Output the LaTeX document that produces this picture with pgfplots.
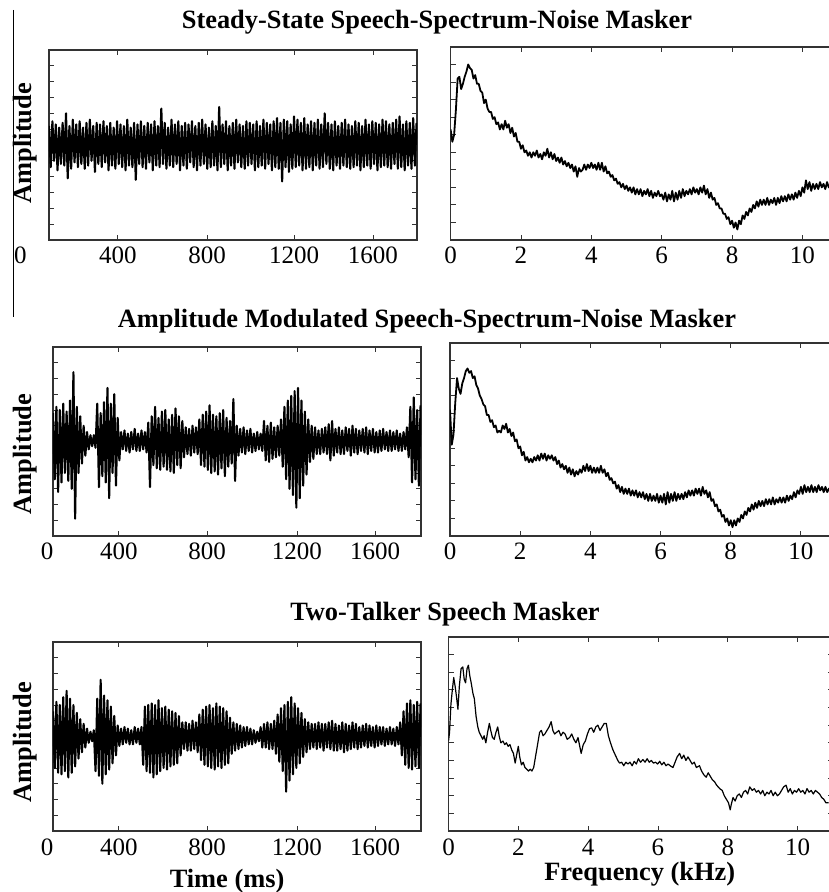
\documentclass[border=0pt]{standalone}
\usepackage{fontspec}
\setmainfont{Liberation Serif}
\usepackage{pgfplots}
\usepackage{pgfplotstable}
\pgfplotsset{compat=1.18}
\newcommand\tfont{\fontsize{26.4}{31}\selectfont\bfseries}
\newcommand\kfont{\fontsize{25}{29}\selectfont}

% steady-state noise waveform (alternating peaks), x = 80 + 8 i ms
\pgfplotstableread[row sep=\\]{y\\
1.2\\-1.4\\1.5\\-1.0\\1.3\\-1.6\\1.1\\-1.2\\1.4\\-1.3\\2.0\\-2.1\\1.2\\-1.5\\1.6\\-1.1\\1.3\\-1.4\\1.5\\-1.2\\
1.1\\-1.5\\1.4\\-1.3\\1.6\\-1.0\\1.2\\-1.7\\1.4\\-1.2\\1.3\\-1.4\\1.5\\-1.1\\1.2\\-1.6\\1.4\\-1.3\\1.1\\-1.5\\
1.5\\-1.2\\1.3\\-1.4\\1.2\\-1.6\\1.6\\-1.3\\1.1\\-1.4\\1.4\\-2.2\\1.3\\-1.2\\1.5\\-1.4\\1.2\\-1.5\\1.4\\-1.1\\
1.3\\-1.6\\1.5\\-1.3\\1.2\\-1.4\\2.3\\-1.2\\1.4\\-1.5\\1.1\\-1.3\\1.6\\-1.4\\1.3\\-1.2\\1.5\\-1.6\\1.2\\-1.3\\
1.4\\-1.5\\1.3\\-1.1\\1.5\\-1.4\\1.2\\-1.6\\1.4\\-1.3\\1.6\\-1.2\\1.3\\-1.5\\1.1\\-1.4\\1.5\\-1.3\\1.2\\-1.6\\
2.4\\-1.4\\1.3\\-1.2\\1.5\\-1.6\\1.2\\-1.3\\1.4\\-1.5\\1.6\\-1.1\\1.3\\-1.4\\1.2\\-1.5\\1.5\\-1.3\\1.4\\-1.2\\
1.3\\-1.6\\1.5\\-1.4\\1.2\\-1.3\\1.6\\-1.5\\1.4\\-1.2\\1.3\\-1.6\\1.5\\-1.4\\1.7\\-1.5\\1.4\\-2.3\\1.6\\-1.4\\
1.5\\-1.7\\1.3\\-1.5\\1.8\\-1.4\\1.6\\-1.3\\1.4\\-1.6\\1.7\\-1.5\\1.3\\-1.4\\1.5\\-1.6\\1.4\\-1.3\\1.6\\-1.5\\
1.3\\-1.4\\2.0\\-1.2\\1.4\\-1.5\\1.3\\-1.6\\1.5\\-1.3\\1.2\\-1.5\\1.4\\-1.3\\1.6\\-1.4\\1.3\\-1.5\\1.2\\-1.4\\
1.5\\-1.3\\1.4\\-1.6\\1.2\\-1.4\\1.6\\-1.3\\1.3\\-1.5\\1.5\\-1.2\\1.4\\-1.6\\1.3\\-1.4\\1.6\\-1.3\\1.5\\-1.4\\
1.3\\-1.5\\1.4\\-1.2\\1.6\\-1.5\\1.8\\-1.4\\1.3\\-1.6\\1.5\\-1.3\\1.4\\-1.5\\1.7\\-1.3\\1.4\\
}\waveA

% amplitude-modulated noise waveform
\pgfplotstableread[row sep=\\]{y\\
1.8\\-2.4\\2.2\\-3.2\\2.0\\-2.6\\2.4\\-2.0\\1.9\\-2.5\\2.6\\-3.0\\4.4\\-4.9\\2.2\\-2.0\\1.6\\-1.4\\1.0\\-0.9\\
0.6\\-0.5\\0.4\\-0.3\\0.4\\-0.4\\2.4\\-2.9\\1.8\\-2.2\\2.5\\-2.6\\3.4\\-3.6\\2.4\\-2.0\\3.0\\-2.8\\1.5\\-1.2\\
0.6\\-0.5\\0.7\\-0.6\\0.5\\-0.7\\0.6\\-0.5\\0.8\\-0.6\\0.5\\-0.6\\0.7\\-0.5\\0.6\\-0.7\\1.2\\-2.9\\1.6\\-1.5\\
2.2\\-1.7\\1.5\\-1.8\\1.9\\-1.6\\2.0\\-1.8\\1.4\\-1.9\\1.7\\-2.0\\2.1\\-1.5\\1.6\\-1.7\\1.3\\-1.0\\0.9\\-0.8\\
0.8\\-0.9\\1.0\\-0.7\\0.9\\-0.8\\1.4\\-1.5\\1.7\\-1.6\\1.9\\-1.8\\2.3\\-2.0\\1.7\\-1.9\\1.6\\-2.1\\1.8\\-1.7\\
2.0\\-2.2\\1.5\\-1.6\\1.3\\-1.4\\2.7\\-2.5\\1.0\\-0.9\\0.8\\-0.7\\0.9\\-0.8\\0.7\\-0.6\\0.8\\-0.7\\0.5\\-0.6\\
0.6\\-0.5\\0.5\\-0.6\\1.3\\-1.2\\1.0\\-1.3\\1.2\\-1.1\\0.9\\-1.0\\1.0\\-0.9\\1.4\\-1.6\\2.2\\-2.4\\2.6\\-3.0\\
2.9\\-3.4\\3.2\\-4.2\\3.4\\-3.6\\2.6\\-2.8\\1.9\\-2.1\\1.4\\-1.3\\1.0\\-1.1\\0.9\\-0.8\\0.7\\-0.8\\0.8\\-0.7\\
0.9\\-0.8\\1.1\\-1.2\\1.3\\-0.9\\0.8\\-0.7\\0.9\\-0.8\\0.7\\-0.8\\0.9\\-0.6\\0.8\\-0.9\\1.0\\-0.7\\0.8\\-0.8\\
0.7\\-0.6\\0.8\\-0.7\\0.9\\-0.8\\0.7\\-0.6\\0.8\\-0.7\\0.6\\-0.7\\0.7\\-0.6\\0.8\\-0.5\\0.6\\-0.6\\0.7\\-0.6\\
0.6\\-0.5\\0.7\\-0.6\\0.5\\-0.6\\0.6\\-0.5\\0.9\\-1.0\\2.2\\-2.6\\2.8\\-2.4\\2.0\\-2.8\\2.3\\
}\waveB

% two-talker speech waveform
\pgfplotstableread[row sep=\\]{y\\
1.6\\-2.0\\2.2\\-2.3\\2.0\\-2.4\\2.5\\-2.2\\2.9\\-2.6\\2.4\\-2.3\\2.0\\-1.9\\1.5\\-1.4\\1.1\\-1.0\\0.8\\-0.7\\
0.5\\-0.4\\0.3\\-0.3\\0.4\\-2.2\\2.4\\-2.5\\3.6\\-3.0\\2.6\\-2.4\\2.3\\-2.1\\1.9\\-1.7\\1.3\\-1.2\\0.7\\-0.6\\
0.5\\-0.5\\0.6\\-0.4\\0.5\\-0.5\\0.4\\-0.5\\0.6\\-0.4\\0.5\\-0.5\\0.6\\-1.8\\1.9\\-2.2\\2.0\\-2.3\\2.1\\-2.6\\
2.0\\-2.4\\2.3\\-2.2\\1.8\\-2.0\\1.9\\-2.1\\1.7\\-1.9\\1.6\\-1.8\\1.5\\-1.7\\1.3\\-1.2\\0.9\\-0.8\\0.9\\-0.9\\
0.8\\-0.9\\1.0\\-0.8\\0.9\\-1.0\\1.4\\-1.5\\1.7\\-1.8\\1.9\\-1.9\\2.0\\-2.0\\1.8\\-2.1\\2.1\\-1.9\\1.9\\-2.0\\
1.8\\-1.8\\1.6\\-1.7\\1.2\\-1.1\\0.9\\-0.9\\0.8\\-0.8\\0.7\\-0.7\\0.6\\-0.6\\0.6\\-0.5\\0.5\\-0.5\\0.4\\-0.4\\
0.3\\-0.3\\0.6\\-0.7\\0.8\\-0.7\\0.9\\-0.8\\0.8\\-0.8\\1.0\\-1.1\\1.4\\-1.6\\1.8\\-2.2\\2.0\\-3.5\\2.2\\-2.8\\
2.5\\-2.4\\2.1\\-2.0\\1.8\\-1.7\\1.5\\-1.3\\1.1\\-1.0\\0.9\\-0.8\\0.8\\-0.7\\0.8\\-0.8\\0.9\\-0.7\\0.8\\-0.9\\
0.8\\-0.7\\0.9\\-0.8\\1.0\\-0.9\\0.8\\-0.9\\0.7\\-0.8\\0.9\\-1.0\\0.8\\-0.9\\0.7\\-0.8\\0.9\\-0.7\\0.8\\-0.8\\
0.6\\-0.7\\0.7\\-0.6\\0.8\\-0.7\\0.7\\-0.6\\0.6\\-0.7\\0.7\\-0.6\\0.6\\-0.5\\0.6\\-0.6\\0.5\\-0.5\\0.6\\-0.5\\
0.5\\-0.6\\0.6\\-0.5\\0.9\\-1.2\\1.6\\-1.8\\2.1\\-2.0\\2.3\\-2.1\\2.0\\-1.9\\2.2\\-2.0\\2.1\\
}\waveC

% spectra, x = 0.05 i kHz
\pgfplotstableread[row sep=\\]{y\\
6.3\\5.6\\6.0\\7.4\\9.2\\9.3\\8.6\\8.9\\9.3\\9.6\\10.0\\9.8\\9.7\\9.2\\9.4\\8.9\\8.9\\8.5\\8.4\\7.8\\
8.0\\7.5\\7.3\\7.3\\6.9\\7.0\\6.6\\6.7\\6.3\\6.6\\6.3\\6.8\\6.4\\6.6\\6.1\\6.4\\5.9\\6.1\\5.6\\5.6\\
5.2\\5.4\\5.0\\5.1\\4.8\\5.0\\4.7\\5.0\\4.8\\5.1\\4.7\\4.9\\4.6\\5.0\\4.8\\5.2\\4.7\\5.0\\4.6\\4.9\\
4.5\\4.7\\4.4\\4.7\\4.3\\4.5\\4.2\\4.4\\4.1\\4.3\\3.9\\4.2\\3.6\\4.1\\3.9\\4.0\\4.3\\4.0\\4.3\\4.1\\
4.4\\4.1\\4.3\\4.0\\4.4\\4.0\\4.4\\3.9\\4.2\\3.8\\3.9\\3.6\\3.7\\3.4\\3.5\\3.2\\3.3\\3.0\\3.2\\2.9\\
3.1\\2.8\\3.0\\2.7\\3.0\\2.6\\2.9\\2.6\\2.9\\2.5\\2.8\\2.6\\2.9\\2.5\\2.8\\2.4\\2.7\\2.5\\2.8\\2.5\\
2.6\\2.3\\2.7\\2.2\\2.6\\2.3\\2.8\\2.2\\2.7\\2.3\\2.8\\2.4\\2.9\\2.5\\2.8\\2.6\\2.9\\2.6\\3.0\\2.7\\
2.9\\2.6\\3.0\\2.7\\3.1\\2.6\\2.9\\2.4\\2.7\\2.3\\2.4\\2.0\\2.1\\1.8\\1.8\\1.5\\1.5\\1.2\\1.3\\0.9\\
1.1\\0.7\\1.0\\0.6\\1.1\\0.9\\1.4\\1.2\\1.6\\1.4\\1.8\\1.6\\2.0\\1.8\\2.2\\1.9\\2.3\\2.0\\2.3\\2.0\\
2.4\\2.0\\2.3\\2.1\\2.4\\2.0\\2.4\\2.1\\2.5\\2.2\\2.5\\2.2\\2.6\\2.3\\2.6\\2.3\\2.7\\2.4\\2.8\\2.5\\
3.0\\2.7\\3.4\\2.9\\3.3\\2.8\\3.2\\2.9\\3.2\\2.9\\3.3\\3.0\\3.2\\2.9\\3.3\\3.0\\3.2\\3.1\\
}\specA

\pgfplotstableread[row sep=\\]{y\\
7.2\\5.2\\5.8\\7.6\\9.0\\8.4\\8.1\\8.7\\9.0\\9.4\\9.55\\9.3\\9.4\\9.0\\9.1\\8.6\\8.4\\8.0\\7.8\\7.5\\
7.4\\6.9\\6.9\\6.5\\6.6\\6.2\\6.3\\5.9\\6.0\\5.9\\6.3\\6.1\\6.4\\5.9\\6.1\\5.7\\5.9\\5.4\\5.5\\5.0\\
5.1\\4.6\\4.8\\4.3\\4.5\\4.2\\4.4\\4.2\\4.5\\4.3\\4.6\\4.3\\4.7\\4.4\\4.7\\4.3\\4.6\\4.4\\4.6\\4.3\\
4.5\\4.1\\4.3\\3.9\\4.1\\3.8\\4.0\\3.6\\3.9\\3.5\\3.8\\3.4\\3.7\\3.5\\3.8\\3.6\\4.0\\3.7\\4.1\\3.7\\
4.0\\3.6\\3.9\\3.6\\3.9\\3.6\\4.0\\3.6\\3.8\\3.4\\3.6\\3.2\\3.3\\3.0\\3.1\\2.7\\2.9\\2.5\\2.8\\2.4\\
2.7\\2.4\\2.7\\2.3\\2.6\\2.3\\2.6\\2.2\\2.5\\2.2\\2.5\\2.1\\2.4\\2.0\\2.4\\2.0\\2.3\\2.0\\2.4\\1.9\\
2.3\\1.9\\2.4\\1.8\\2.5\\1.9\\2.4\\2.0\\2.5\\2.0\\2.4\\2.1\\2.4\\2.1\\2.5\\2.2\\2.6\\2.3\\2.6\\2.3\\
2.7\\2.4\\2.7\\2.3\\2.8\\2.4\\2.6\\2.2\\2.5\\2.0\\2.1\\1.7\\1.8\\1.4\\1.5\\1.1\\1.2\\0.8\\1.0\\0.6\\
0.9\\0.5\\0.9\\0.6\\1.0\\0.8\\1.2\\1.0\\1.4\\1.2\\1.6\\1.4\\1.8\\1.5\\1.9\\1.6\\2.0\\1.7\\2.0\\1.7\\
2.1\\1.8\\2.1\\1.8\\2.2\\1.8\\2.1\\1.9\\2.2\\1.9\\2.2\\1.9\\2.3\\2.0\\2.3\\2.1\\2.5\\2.2\\2.6\\2.4\\
2.8\\2.4\\2.9\\2.5\\2.8\\2.5\\2.9\\2.5\\2.8\\2.5\\2.9\\2.6\\2.8\\2.5\\2.8\\2.5\\2.7\\2.6\\
}\specB

\pgfplotsset{
  panel/.style={
    scale only axis, anchor=south west, clip mode=individual,
    axis line style={line width=1.1pt, black!80},
    every tick/.style={line width=0.9pt, black!80},
    major tick length=5pt, tick align=inside, tick pos=both,
    yticklabels={},
    tick label style={font=\kfont},
    /pgf/number format/assume math mode=true,
    xticklabel style={anchor=base, yshift=-24pt},
    ylabel style={font=\tfont, anchor=center},
  },
  wave/.style={panel, width=368pt, height=189pt,
    xmin=80, xmax=1810, ymin=-6, ymax=6, ytick={-5,...,5},
    xtick={390,804,1227,1594}, xticklabels={400,800,1200,1600}},
  spec/.style={panel, xmin=0, xmax=11, ymin=0, ymax=11,
    ytick={1,...,10}, xtick={0,2,4,6,8,10}},
  wline/.style={line width=2.1pt, black, line join=round},
  sline/.style={line width=1.8pt, black, line join=round},
}

\begin{document}
\begin{tikzpicture}[x=1pt,y=1pt]
\useasboundingbox (0,0) rectangle (829,892);
\draw[line width=1pt] (13,882) -- (13,575);

% ---- row 1
\begin{axis}[wave, at={(49pt,652pt)}, height=190pt,
  xtick={404,823,1232,1603},
  ylabel={Amplitude}, ylabel style={at={(axis description cs:-0.065,0.51)}}]
\addplot[wline] table[x expr={80+8*\coordindex}, y=y] {\waveA};
\node[font=\kfont, anchor=base, yshift=-24pt] at (rel axis cs:-0.078,0) {0};
\end{axis}
\begin{axis}[spec, at={(450.6pt,652pt)}, width=387pt, height=193pt]
\addplot[sline] table[x expr={0.05*\coordindex}, y=y] {\specA};
\end{axis}
\node[font=\tfont, anchor=base] at (437,863) {Steady-State Speech-Spectrum-Noise Masker};

% ---- row 2
\begin{axis}[wave, at={(53pt,356pt)},
  ylabel={Amplitude}, ylabel style={at={(axis description cs:-0.076,0.434)}}]
\addplot[wline] table[x expr={80+8*\coordindex}, y=y] {\waveB};
\node[font=\kfont, anchor=base, yshift=-24pt] at (rel axis cs:-0.016,0) {0};
\end{axis}
\begin{axis}[spec, at={(450pt,356pt)}, width=386pt, height=193pt]
\addplot[sline] table[x expr={0.05*\coordindex}, y=y] {\specB};
\end{axis}
\node[font=\tfont, anchor=base] at (427,564) {Amplitude Modulated Speech-Spectrum-Noise Masker};

% ---- row 3
\begin{axis}[wave, at={(53pt,61pt)},
  xlabel={Time (ms)}, xlabel style={font=\tfont, anchor=base, at={(axis description cs:0.473,0)}, yshift=-56pt},
  ylabel={Amplitude}, ylabel style={at={(axis description cs:-0.076,0.47)}}]
\addplot[wline] table[x expr={80+8*\coordindex}, y=y] {\waveC};
\node[font=\kfont, anchor=base, yshift=-24pt] at (rel axis cs:-0.016,0) {0};
\end{axis}
\begin{axis}[spec, at={(448.5pt,61pt)}, width=384pt, height=194pt,
  xlabel={Frequency (kHz)}, xlabel style={font=\tfont, anchor=base, at={(axis description cs:0.498,0)}, yshift=-49pt}]
\addplot[line width=1.2pt, black, line join=round] coordinates {
(0.00,5.1)(0.03,5.6)(0.07,7.2)(0.11,8.0)(0.15,8.7)(0.19,8.2)(0.23,7.6)(0.27,6.9)(0.31,8.2)(0.36,9.2)
(0.41,9.3)(0.45,8.6)(0.49,8.4)(0.53,9.2)(0.57,9.4)(0.61,8.8)(0.65,8.4)(0.70,7.8)(0.74,7.5)(0.79,6.5)
(0.84,5.9)(0.88,5.6)(0.93,5.4)(0.98,5.2)(1.02,5.4)(1.07,5.0)(1.12,5.6)(1.17,6.1)(1.21,5.7)(1.26,5.3)
(1.31,5.2)(1.36,5.6)(1.41,5.9)(1.45,5.4)(1.50,5.0)(1.56,5.1)(1.61,4.9)(1.66,5.0)(1.71,4.8)(1.76,4.9)
(1.81,4.6)(1.86,4.4)(1.91,3.85)(1.96,4.4)(2.00,4.8)(2.04,4.2)(2.09,3.75)(2.14,3.9)(2.19,3.6)(2.24,3.5)
(2.29,3.4)(2.34,3.5)(2.39,3.4)(2.44,3.6)(2.50,4.3)(2.56,5.0)(2.61,5.6)(2.66,5.7)(2.71,5.4)(2.76,5.5)
(2.82,5.7)(2.88,5.9)(2.94,6.2)(2.99,5.7)(3.04,5.5)(3.10,5.6)(3.16,5.7)(3.22,5.4)(3.28,5.6)(3.34,5.5)
(3.40,5.2)(3.47,5.3)(3.53,5.5)(3.59,5.2)(3.65,5.0)(3.71,5.3)(3.77,4.7)(3.80,4.4)(3.86,4.9)(3.92,5.1)
(3.98,5.5)(4.04,5.8)(4.10,5.85)(4.16,5.6)(4.22,5.9)(4.28,6.0)(4.34,5.7)(4.40,5.9)(4.46,6.1)(4.52,6.1)
(4.58,5.4)(4.64,5.0)(4.71,4.6)(4.78,4.3)(4.85,4.0)(4.90,3.85)(4.96,3.9)(5.02,3.7)(5.08,3.9)(5.14,3.8)
(5.20,3.9)(5.26,3.7)(5.32,3.95)(5.38,3.8)(5.44,4.1)(5.50,3.9)(5.57,4.05)(5.63,3.9)(5.69,4.1)(5.75,3.9)
(5.81,4.0)(5.87,3.85)(5.93,3.9)(5.99,3.8)(6.05,3.95)(6.11,3.75)(6.17,3.9)(6.23,3.7)(6.29,3.8)(6.35,3.7)
(6.43,3.6)(6.49,3.9)(6.55,4.2)(6.62,4.4)(6.68,4.1)(6.74,4.3)(6.80,4.0)(6.86,4.2)(6.92,4.0)(6.98,3.8)
(7.04,3.9)(7.10,3.6)(7.19,3.7)(7.25,3.4)(7.31,3.2)(7.38,3.05)(7.44,3.3)(7.50,3.1)(7.56,2.9)(7.62,2.8)
(7.68,2.6)(7.77,2.4)(7.84,2.3)(7.90,2.0)(7.96,1.8)(8.02,1.6)(8.07,1.2)(8.10,1.5)(8.15,1.9)(8.21,1.7)
(8.27,2.0)(8.33,2.1)(8.39,1.9)(8.45,2.2)(8.51,2.3)(8.57,2.1)(8.63,2.5)(8.70,2.3)(8.76,2.4)(8.82,2.2)
(8.88,2.3)(8.94,2.1)(9.00,2.3)(9.06,2.0)(9.12,2.2)(9.18,2.1)(9.24,2.3)(9.30,2.0)(9.36,2.2)(9.42,2.0)
(9.48,2.1)(9.54,2.3)(9.60,2.5)(9.67,2.6)(9.73,2.2)(9.79,2.4)(9.85,2.1)(9.91,2.3)(9.97,2.2)(10.03,2.4)
(10.09,2.2)(10.15,2.3)(10.21,2.1)(10.27,2.4)(10.33,2.2)(10.39,2.3)(10.45,2.1)(10.51,2.3)(10.57,2.2)(10.63,2.1)
(10.69,1.9)(10.75,1.8)(10.81,1.6)(10.89,1.6)};
\end{axis}
\node[font=\tfont, anchor=base] at (445,271) {Two-Talker Speech Masker};
\end{tikzpicture}
\end{document}
